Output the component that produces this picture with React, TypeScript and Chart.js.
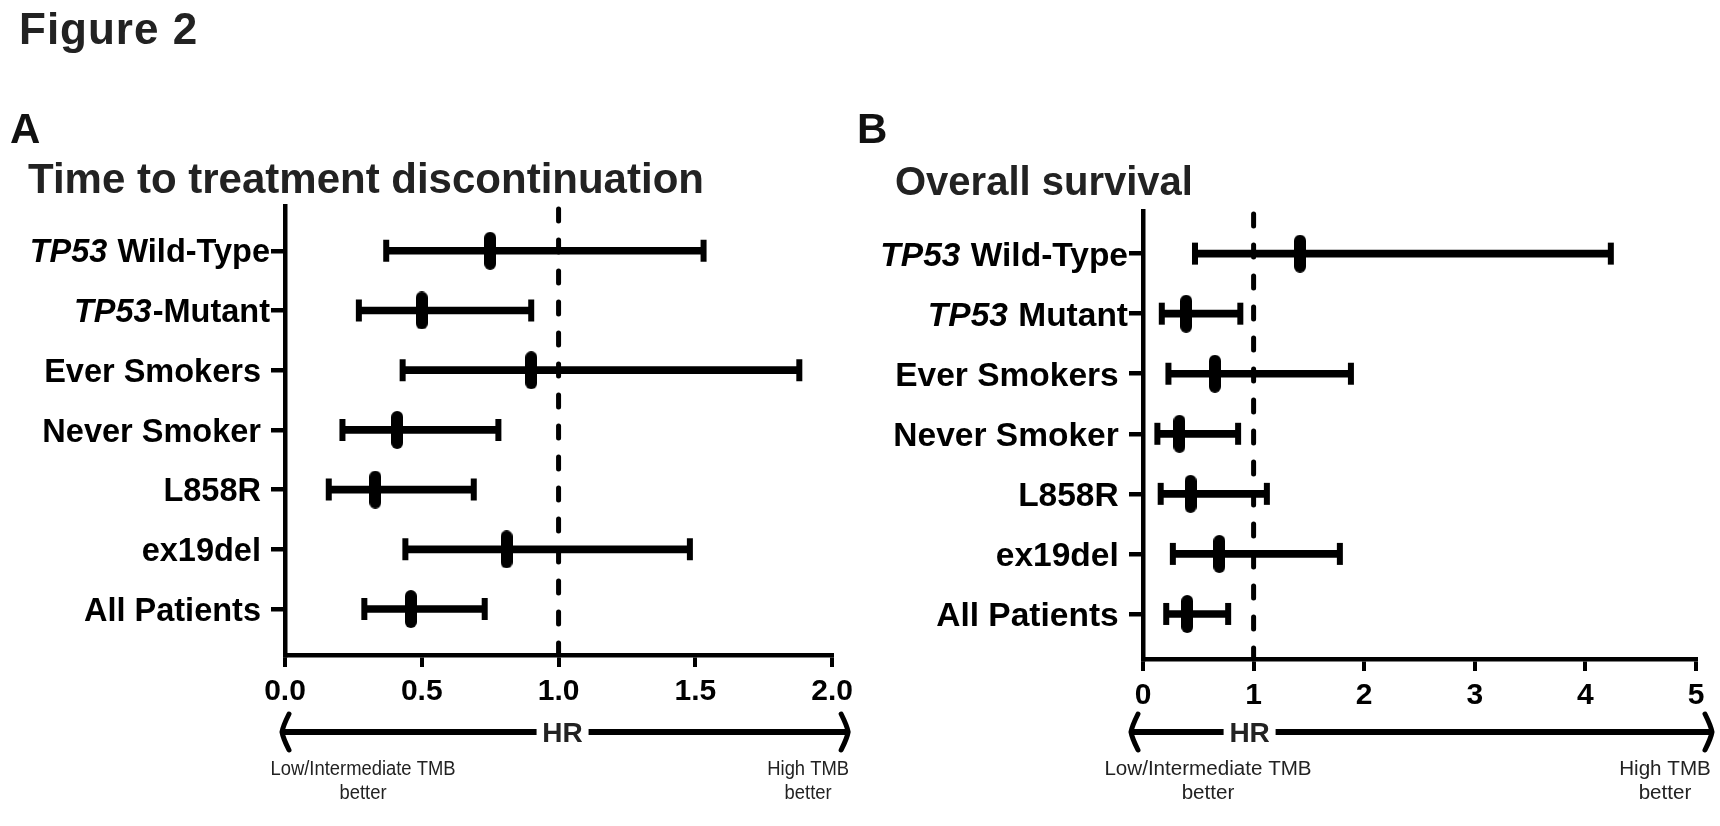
import React, { useEffect, useRef } from "react";
import { Chart, registerables } from "chart.js";

Chart.register(...registerables);

const FONT = '"Liberation Sans", Arial, Helvetica, sans-serif';

// ---- Panel A: Time to treatment discontinuation ----
const categoriesA = ["TP53 Wild-Type", "TP53-Mutant", "Ever Smokers", "Never Smoker", "L858R", "ex19del", "All Patients"];
const hrA = [0.75, 0.5, 0.9, 0.41, 0.33, 0.81, 0.46];
const lowA = [0.37, 0.27, 0.43, 0.21, 0.16, 0.44, 0.29];
const highA = [1.53, 0.9, 1.88, 0.78, 0.69, 1.48, 0.73];
const xTicksA = [0, 0.5, 1, 1.5, 2];
const xTickLabelsA = ["0.0", "0.5", "1.0", "1.5", "2.0"];

// ---- Panel B: Overall survival ----
const categoriesB = ["TP53 Wild-Type", "TP53 Mutant", "Ever Smokers", "Never Smoker", "L858R", "ex19del", "All Patients"];
const hrB = [1.42, 0.39, 0.65, 0.33, 0.43, 0.69, 0.4];
const lowB = [0.47, 0.17, 0.23, 0.13, 0.16, 0.27, 0.21];
const highB = [4.23, 0.88, 1.88, 0.86, 1.12, 1.78, 0.77];
const xTicksB = [0, 1, 2, 3, 4, 5];
const xTickLabelsB = ["0", "1", "2", "3", "4", "5"];

const ITALIC_PREFIX = "TP53";
const AXIS_LABEL = "HR";
const LEFT_NOTE = ["Low/Intermediate TMB", "better"];
const RIGHT_NOTE = ["High TMB", "better"];

type PanelProps = {
  categories: string[];
  hr: number[];
  low: number[];
  high: number[];
  xTicks: number[];
  xTickLabels: string[];
  refValue: number;
  left: number;
  padding: { left: number; right: number; top: number; bottom: number };
  yRange: [number, number];
  labelSize: number;
  arrowOff: [number, number];
  hrShift: number;
  noteOff: [number, number];
  noteScale: number;
};

function makePill(): HTMLCanvasElement {
  const c = document.createElement("canvas");
  const w = 12;
  const h = 38;
  c.width = w;
  c.height = h;
  const g = c.getContext("2d")!;
  g.fillStyle = "#000";
  g.beginPath();
  const r = w / 2;
  g.moveTo(0, r);
  g.arc(r, r, r, Math.PI, 0);
  g.lineTo(w, h - r);
  g.arc(r, h - r, r, 0, Math.PI);
  g.closePath();
  g.fill();
  return c;
}

function Panel(p: PanelProps) {
  const ref = useRef<HTMLCanvasElement | null>(null);
  useEffect(() => {
    if (!ref.current) return;
    const pill = makePill();
    const decor = {
      id: "forestDecor",
      beforeDatasetsDraw(chart: any) {
        const { ctx, chartArea, scales } = chart;
        const x = scales.x.getPixelForValue(p.refValue);
        ctx.save();
        ctx.strokeStyle = "#000";
        ctx.lineWidth = 5;
        ctx.lineCap = "round";
        ctx.setLineDash([12, 19]);
        ctx.beginPath();
        ctx.moveTo(x, chartArea.top + 3);
        ctx.lineTo(x, chartArea.bottom);
        ctx.stroke();
        ctx.restore();
      },
      afterDraw(chart: any) {
        const { ctx, chartArea, scales } = chart;
        ctx.save();
        // y category labels
        ctx.fillStyle = "#000";
        ctx.textBaseline = "alphabetic";
        ctx.textAlign = "right";
        const boldFont = `bold ${p.labelSize}px ${FONT}`;
        const italicFont = `italic bold ${p.labelSize}px ${FONT}`;
        p.categories.forEach((label, i) => {
          const y = scales.y.getPixelForValue(i) + p.labelSize * 0.36;
          const xr = chartArea.left - 15;
          if (label.startsWith(ITALIC_PREFIX)) {
            const rest = label.slice(ITALIC_PREFIX.length);
            ctx.font = boldFont;
            const w = ctx.measureText(rest).width;
            ctx.fillText(rest, xr, y);
            ctx.font = italicFont;
            ctx.fillText(ITALIC_PREFIX, xr - w - 1, y);
          } else {
            ctx.font = boldFont;
            ctx.fillText(label + " ", xr, y);
          }
        });
        // HR arrow
        const ay = 732;
        const xl = chartArea.left + p.arrowOff[0];
        const xrr = chartArea.right + p.arrowOff[1];
        const xc = scales.x.getPixelForValue(p.refValue) + p.hrShift;
        ctx.strokeStyle = "#000";
        ctx.lineWidth = 6;
        ctx.lineCap = "butt";
        ctx.beginPath();
        ctx.moveTo(xl + 2, ay);
        ctx.lineTo(xc - 26, ay);
        ctx.moveTo(xc + 26, ay);
        ctx.lineTo(xrr - 2, ay);
        ctx.stroke();
        ctx.lineWidth = 5;
        ctx.lineCap = "round";
        ctx.lineJoin = "round";
        ctx.beginPath();
        ctx.moveTo(xl + 7, ay - 18);
        ctx.quadraticCurveTo(xl + 1, ay - 6, xl, ay);
        ctx.quadraticCurveTo(xl + 1, ay + 6, xl + 7, ay + 18);
        ctx.moveTo(xrr - 7, ay - 18);
        ctx.quadraticCurveTo(xrr - 1, ay - 6, xrr, ay);
        ctx.quadraticCurveTo(xrr - 1, ay + 6, xrr - 7, ay + 18);
        ctx.stroke();
        ctx.fillStyle = "#222";
        ctx.textAlign = "center";
        ctx.font = `bold 28px ${FONT}`;
        ctx.fillText(AXIS_LABEL, xc, ay + 10);
        // notes
        ctx.font = `20px ${FONT}`;
        const lx = chartArea.left + p.noteOff[0];
        const rx = chartArea.right + p.noteOff[1];
        const note = (t: string, x: number, y: number) => {
          ctx.save();
          ctx.translate(x, y);
          ctx.scale(p.noteScale, 1);
          ctx.fillText(t, 0, 0);
          ctx.restore();
        };
        note(LEFT_NOTE[0], lx, 775);
        note(LEFT_NOTE[1], lx, 799);
        note(RIGHT_NOTE[0], rx, 775);
        note(RIGHT_NOTE[1], rx, 799);
        ctx.restore();
      },
    };

    const chart = new Chart(ref.current, {
      type: "bar",
      data: {
        datasets: [
          {
            type: "scatter",
            label: "HR",
            data: p.hr.map((v, i) => ({ x: v, y: i })),
            pointStyle: pill as any,
            pointRadius: 6,
            pointBackgroundColor: "#000",
            pointBorderWidth: 0,
            order: 0,
          } as any,
          {
            type: "scatter",
            label: "CI limits",
            data: [...p.low.map((v, i) => ({ x: v, y: i })), ...p.high.map((v, i) => ({ x: v, y: i }))],
            pointStyle: "line",
            pointRadius: 11,
            pointRotation: 90,
            pointBorderWidth: 6,
            pointBorderColor: "#000",
            pointBackgroundColor: "#000",
            order: 1,
          } as any,
          {
            type: "bar",
            label: "95% CI",
            data: p.low.map((v, i) => ({ x: [v, p.high[i]], y: i })),
            barThickness: 7,
            backgroundColor: "#000",
            borderWidth: 0,
            borderSkipped: false,
            indexAxis: "y",
            order: 2,
          } as any,
        ],
      },
      options: {
        responsive: false,
        animation: false,
        indexAxis: "y",
        events: [],
        layout: { padding: p.padding },
        plugins: { legend: { display: false }, tooltip: { enabled: false }, title: { display: false } },
        scales: {
          x: {
            type: "linear",
            min: p.xTicks[0],
            max: p.xTicks[p.xTicks.length - 1],
            offset: false,
            afterBuildTicks: (s: any) => {
              s.ticks = p.xTicks.map((v) => ({ value: v }));
            },
            afterFit: (s: any) => {
              s.height = 80;
            },
            ticks: {
              autoSkip: false,
              maxRotation: 0,
              padding: 7,
              color: "#000",
              font: { family: FONT, size: 30, weight: "bold" },
              callback: (_v: any, i: number) => p.xTickLabels[i],
            },
            grid: { drawOnChartArea: false, drawTicks: true, tickLength: 12, lineWidth: 4, color: "#000", offset: false },
            border: { display: true, color: "#000", width: 4.5 },
          } as any,
          y: {
            type: "linear",
            min: p.yRange[0],
            max: p.yRange[1],
            reverse: true,
            offset: false,
            afterBuildTicks: (s: any) => {
              s.ticks = p.categories.map((_c, i) => ({ value: i }));
            },
            afterFit: (s: any) => {
              s.width = 16;
            },
            ticks: { display: false },
            grid: { drawOnChartArea: false, drawTicks: true, tickLength: 14, lineWidth: 4.5, color: "#000", offset: false },
            border: { display: true, color: "#000", width: 4.5 },
          } as any,
        },
      },
      plugins: [decor as any],
    });
    return () => chart.destroy();
  }, []);
  return (
    <canvas
      ref={ref}
      width={860}
      height={826}
      style={{ position: "absolute", left: p.left, top: 0, width: 860, height: 826 }}
    />
  );
}

const textBase: React.CSSProperties = {
  position: "absolute",
  margin: 0,
  lineHeight: 1,
  whiteSpace: "nowrap",
  fontFamily: FONT,
  fontWeight: "bold",
  color: "#222",
  zIndex: 2,
};

export default function App() {
  return (
    <div style={{ position: "absolute", left: 0, top: 0, width: 1720, height: 826, background: "#fff", overflow: "hidden" }}>
      <Panel
        categories={categoriesA}
        hr={hrA}
        low={lowA}
        high={highA}
        xTicks={xTicksA}
        xTickLabels={xTickLabelsA}
        refValue={1}
        left={0}
        padding={{ left: 269, right: 25, top: 206, bottom: 91 }}
        yRange={[-0.75, 6.77]}
        labelSize={32.5}
        arrowOff={[-3, 16]}
        hrShift={4}
        noteOff={[78, -24]}
        noteScale={0.92}
      />
      <Panel
        categories={categoriesB}
        hr={hrB}
        low={lowB}
        high={highB}
        xTicks={xTicksB}
        xTickLabels={xTickLabelsB}
        refValue={1}
        left={860}
        padding={{ left: 267, right: 24, top: 211, bottom: 87 }}
        yRange={[-0.71, 6.75]}
        labelSize={33.5}
        arrowOff={[-12, 16]}
        hrShift={-4}
        noteOff={[65, -31]}
        noteScale={1.03}
      />
      <div style={{ ...textBase, left: 19, top: 7, fontSize: 44, letterSpacing: 1 }}>Figure 2</div>
      <div style={{ ...textBase, left: 10, top: 108, fontSize: 42, color: "#111" }}>A</div>
      <div style={{ ...textBase, left: 857, top: 108, fontSize: 42, color: "#111" }}>B</div>
      <div style={{ ...textBase, left: 28, top: 158, fontSize: 42 }}>Time to treatment discontinuation</div>
      <div style={{ ...textBase, left: 895, top: 161, fontSize: 40 }}>Overall survival</div>
    </div>
  );
}
